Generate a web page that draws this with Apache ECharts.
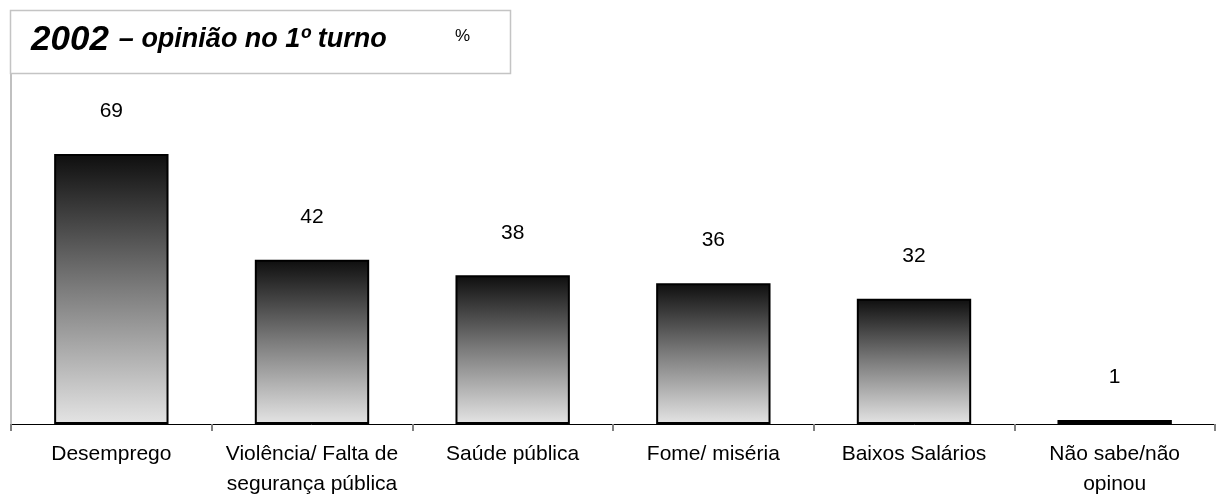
<!DOCTYPE html>
<html><head><meta charset="utf-8">
<script src="https://cdn.jsdelivr.net/npm/echarts@6/dist/echarts.min.js"></script>
<style>html,body{margin:0;padding:0;background:#fff}#c{width:1217px;height:495px}</style>
</head><body><div id="c"></div>
<script>
const categories = ['Desemprego', 'Violência/ Falta de\nsegurança pública', 'Saúde pública', 'Fome/ miséria', 'Baixos Salários', 'Não sabe/não\nopinou'];
const values = [69, 42, 38, 36, 32, 1];

const FONT = '"Liberation Sans", Arial, sans-serif';
const chart = echarts.init(document.getElementById('c'), null, {renderer: 'canvas'});
chart.setOption({
  animation: false,
  backgroundColor: '#fff',
  grid: {left: 11, right: 2, top: 64, height: 360, containLabel: false, outerBoundsMode: 'none'},
  graphic: [
    {type: 'rect', shape: {x: 10.5, y: 10.5, width: 500, height: 63}, style: {fill: '#fff', stroke: '#c4c4c4', lineWidth: 1.5}, z: 10},
    {type: 'text', x: 31, y: 40, z: 11, style: {
      text: '{a|2002}{b|– opinião no 1º turno}',
      verticalAlign: 'middle',
      rich: {
        a: {fontStyle: 'italic', fontWeight: 'bold', fontSize: 35, fontFamily: FONT, fill: '#000', padding: [0, 10, 0, 0]},
        b: {fontStyle: 'italic', fontWeight: 'bold', fontSize: 27, fontFamily: FONT, fill: '#000'}
      }
    }},
    {type: 'text', x: 455, y: 36, z: 11, style: {text: '%', fontSize: 17, fontFamily: FONT, fill: '#000', verticalAlign: 'middle'}}
  ],
  xAxis: {
    type: 'category', data: categories,
    axisLine: {lineStyle: {color: '#000', width: 1}},
    axisTick: {show: true, length: 7, lineStyle: {color: '#808080', width: 2}},
    axisLabel: {color: '#000', fontSize: 21, fontFamily: FONT, margin: 15, lineHeight: 30, interval: 0}
  },
  yAxis: {
    type: 'value', min: 0, max: 92,
    axisLine: {show: true, lineStyle: {color: '#c0c0c0', width: 2}},
    axisTick: {show: false}, axisLabel: {show: false}, splitLine: {show: false}
  },
  series: [{
    type: 'bar', data: values, barWidth: '57%',
    itemStyle: {
      borderColor: '#000', borderWidth: 2,
      color: new echarts.graphic.LinearGradient(0, 0, 0, 1, [
        {offset: 0, color: '#0e0e0e'},
        {offset: 0.5, color: '#7c7c7c'},
        {offset: 1, color: '#e4e4e4'}
      ])
    },
    label: {show: true, position: 'top', distance: 32, color: '#000', fontSize: 21, fontFamily: FONT}
  }]
});
</script></body></html>
